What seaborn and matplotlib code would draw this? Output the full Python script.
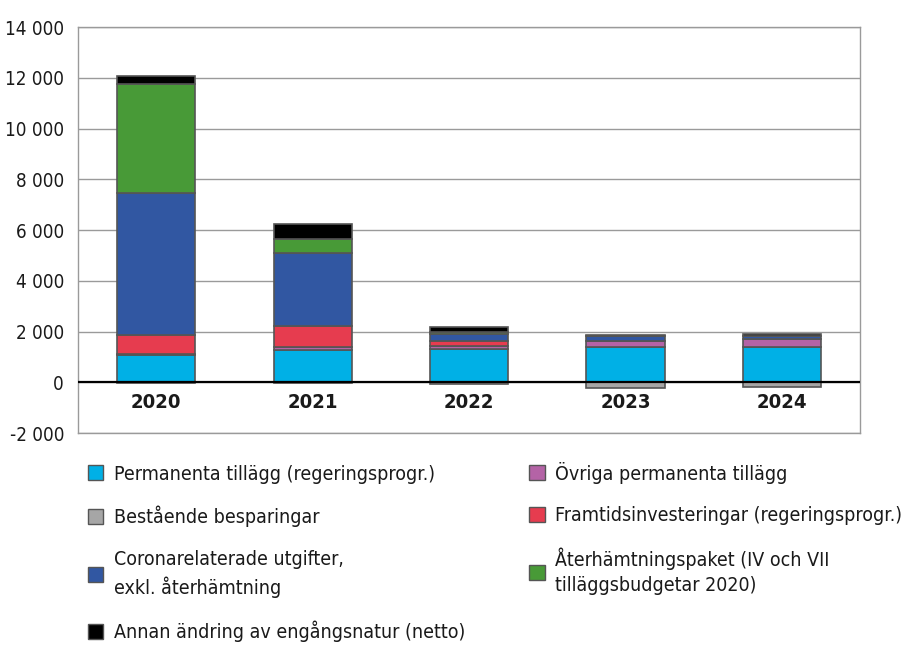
import numpy as np
import pandas as pd
import matplotlib
matplotlib.use("Agg")
import matplotlib.pyplot as plt
from matplotlib.patches import Patch
from matplotlib.ticker import FuncFormatter
import seaborn as sns

# Data (mkr)
years = ["2020", "2021", "2022", "2023", "2024"]
permanenta = [1060, 1280, 1300, 1390, 1390]
ovriga = [40, 100, 130, 240, 320]
framtid = [750, 840, 200, 0, 0]
corona = [5600, 2890, 265, 180, 110]
aterhamtning = [4300, 550, 105, 0, 0]
annan = [300, 560, 160, 40, 100]
bestaende = [-40, -40, -60, -220, -200]

labels = {
    "permanenta": "Permanenta tillägg (regeringsprogr.)",
    "bestaende": "Bestående besparingar",
    "corona": "Coronarelaterade utgifter,\nexkl. återhämtning",
    "annan": "Annan ändring av engångsnatur (netto)",
    "ovriga": "Övriga permanenta tillägg",
    "framtid": "Framtidsinvesteringar (regeringsprogr.)",
    "aterhamtning": "Återhämtningspaket (IV och VII\ntilläggsbudgetar 2020)",
}
colors = {
    "permanenta": "#00b0e6",
    "bestaende": "#a6a6a6",
    "corona": "#3157a2",
    "annan": "#000000",
    "ovriga": "#b463a6",
    "framtid": "#e63c4f",
    "aterhamtning": "#489a37",
}

sns.set_theme(style="white")
plt.rcParams["font.family"] = ["DejaVu Sans"]
plt.rcParams["font.stretch"] = "condensed"

fig = plt.figure(figsize=(9.22, 6.5), dpi=100)
ax = fig.add_axes([78 / 922, 1 - 433 / 650, 782 / 922, 406 / 650])

edge = "#555555"
# stacking order from zero upwards
stack = [("permanenta", permanenta), ("ovriga", ovriga), ("framtid", framtid),
         ("corona", corona), ("aterhamtning", aterhamtning), ("annan", annan)]
bottom = np.zeros(len(years))
for key, vals in stack:
    df = pd.DataFrame({"year": years, "value": vals})
    sns.barplot(data=df, x="year", y="value", bottom=bottom, color=colors[key],
                width=0.5, errorbar=None, edgecolor=edge, linewidth=1.2,
                saturation=1, ax=ax, zorder=3)
    bottom = bottom + np.array(vals)

df = pd.DataFrame({"year": years, "value": bestaende})
sns.barplot(data=df, x="year", y="value", color=colors["bestaende"], width=0.5,
            errorbar=None, edgecolor=edge, linewidth=1.2, saturation=1, ax=ax, zorder=3)

ax.set_xlim(-0.5, 4.5)
ax.set_ylim(-2000, 14000)
ax.set_yticks(range(-2000, 14001, 2000))
ax.yaxis.set_major_formatter(FuncFormatter(lambda v, p: f"{int(v):,}".replace(",", " ")))
ax.grid(axis="y", color="#9a9a9a", linewidth=1, zorder=0)
ax.axhline(0, color="black", linewidth=1.6, zorder=4)
ax.set_xticks([])
ax.set_xlabel("")
ax.set_ylabel("")
for s in ax.spines.values():
    s.set_color("#9a9a9a")
    s.set_linewidth(1)
ax.tick_params(axis="y", length=0, pad=10, labelsize=13.5, labelcolor="#1a1a1a")

for i, y in enumerate(years):
    ax.text(i, -420, y, ha="center", va="top", fontsize=14.5, fontweight="bold",
            color="#1a1a1a")

order = ["permanenta", "bestaende", "corona", "annan", "ovriga", "framtid", "aterhamtning"]
handles = [Patch(facecolor=colors[k], edgecolor=edge, linewidth=1) for k in order]
leg = fig.legend(handles, [labels[k] for k in order], ncol=2, loc="upper left",
                 bbox_to_anchor=(70 / 922, 1 - 444 / 650), frameon=False, fontsize=14,
                 handlelength=0.8, handleheight=0.8, handletextpad=0.55,
                 columnspacing=3.3, labelspacing=1.15, labelcolor="#1a1a1a")
for t in leg.get_texts():
    t.set_linespacing(1.45)

fig.savefig("out.png", dpi=100)
